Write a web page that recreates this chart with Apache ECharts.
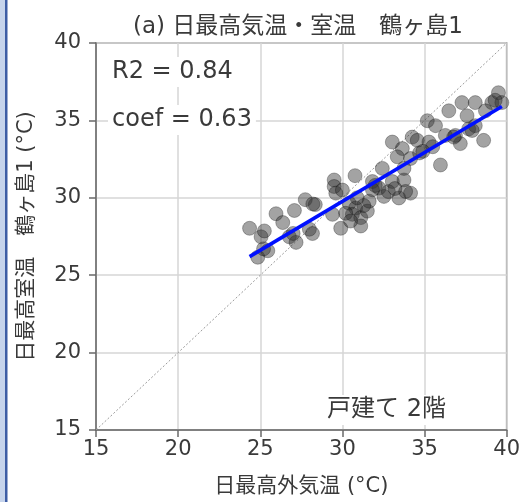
<!DOCTYPE html>
<html>
<head>
<meta charset="utf-8">
<script src="https://cdn.jsdelivr.net/npm/echarts@6/dist/echarts.min.js"></script>
<style>
html,body{margin:0;padding:0;background:#fff;}
#chart{width:523px;height:502px;}
</style>
</head>
<body>
<div id="chart"></div>
<script>
// ---- Data ----
const axisTicks = [15, 20, 25, 30, 35, 40];
const outdoorMax = [
  24.35, 24.85, 25.05, 25.25, 25.46, 25.2, 25.96, 26.37, 26.77, 27.08, 27.18, 27.0, 27.74, 28.35, 28.2, 27.99, 28.18,
  29.5, 29.5, 29.6, 29.4, 29.9, 30.77, 30.41, 30.81, 30.61, 31.12, 31.52, 31.12, 31.63, 31.83, 32.23, 32.43, 32.53,
  33.04, 33.44, 33.75, 34.15, 33.85, 31.83, 32.0, 30.2, 30.5, 31.3, 30.9, 32.8, 33.2, 30.0,
  33.04, 33.65, 33.34, 34.25, 34.56, 35.27, 34.15, 33.75, 35.17, 35.67, 35.97, 36.27, 36.48, 37.28, 38.09, 37.59,
  37.18, 37.69, 38.09, 38.6, 39.1, 39.5, 39.71, 38.71, 36.88, 37.9, 36.78, 35.5, 34.7, 34.9, 39.3
];
const indoorMax = [
  28.03, 26.16, 27.48, 27.86, 26.58, 26.7, 28.97, 28.4, 27.48, 29.18, 27.12, 27.7, 29.88, 29.56, 29.6, 27.97, 27.69,
  31.15, 30.73, 30.3, 28.93, 28.03, 31.43, 29.65, 29.34, 28.93, 28.72, 29.14, 28.18, 29.78, 31.05, 30.63, 31.9, 30.09,
  31.05, 29.99, 31.15, 30.3, 30.41, 30.52, 30.8, 29.0, 28.5, 29.5, 30.0, 30.4, 30.6, 30.5,
  33.6, 33.18, 32.65, 33.92, 33.71, 33.6, 32.54, 31.9, 34.98, 34.66, 32.12, 34.03, 35.62, 36.15, 36.15, 35.3,
  33.5, 34.45, 34.66, 33.71, 36.15, 36.79, 36.15, 35.62, 34.03, 34.35, 33.92, 33.3, 32.9, 33.0, 36.3
];
const fitX = [24.35, 39.71];
const fitY = [26.2, 35.9];
const identity = [15, 40];
const titleText = '(a) 日最高気温・室温　鶴ヶ島1';
const xName = '日最高外気温 (°C)';
const yName = '日最高室温　鶴ヶ島1 (°C)';
const statR2 = 'R2 = 0.84';
const statCoef = 'coef = 0.63';
const noteText = '戸建て 2階';

// ---- Chart ----
const LAT = 'DejaVu Sans, "Noto Sans CJK JP", sans-serif';
const chart = echarts.init(document.getElementById('chart'), null, {renderer: 'canvas'});
const pts = outdoorMax.map((x, i) => [x, indoorMax[i]]);
const axisCommon = {
  type: 'value',
  min: axisTicks[0],
  max: axisTicks[axisTicks.length - 1],
  interval: axisTicks[1] - axisTicks[0],
  axisLine: {show: true, onZero: false, lineStyle: {color: '#6a6a6a', width: 1.5}},
  axisTick: {show: true, inside: false, length: 7, lineStyle: {color: '#6a6a6a', width: 1.5}},
  splitLine: {show: true, lineStyle: {color: '#d6d6d6', width: 1.5}},
  nameLocation: 'middle',
  nameTextStyle: {fontFamily: LAT, fontSize: 21, color: '#3a3a3a'}
};
chart.setOption({
  animation: false,
  backgroundColor: '#fff',
  grid: {left: 96, right: 15, top: 43, bottom: 67, show: true, borderColor: '#7a7a7a', borderWidth: 1.5, backgroundColor: 'transparent'},
  xAxis: Object.assign({}, axisCommon, {
    name: xName, nameGap: 46,
    axisLabel: {fontFamily: LAT, fontSize: 21, color: '#3a3a3a', margin: 9}
  }),
  yAxis: Object.assign({}, axisCommon, {
    name: yName, nameGap: 59,
    axisLabel: {fontFamily: LAT, fontSize: 21, color: '#3a3a3a', margin: 15}
  }),
  graphic: [
    {type: 'rect', shape: {x: 0, y: 0, width: 5, height: 502}, style: {fill: '#c6d4ec'}, z: 200},
    {type: 'rect', shape: {x: 5, y: 0, width: 2.5, height: 502}, style: {fill: '#3d5da5'}, z: 200},
    {type: 'text', x: 298, y: 27, z: 100, style: {text: titleText, font: '23px ' + LAT, fill: '#3a3a3a', textAlign: 'center', textVerticalAlign: 'middle'}},
    {type: 'text', x: 108, y: 72, z: 100, style: {text: statR2, font: '24px ' + LAT, fill: '#3a3a3a', textAlign: 'left', textVerticalAlign: 'middle', backgroundColor: '#fff', padding: [3, 4]}},
    {type: 'text', x: 108, y: 120, z: 100, style: {text: statCoef, font: '24px ' + LAT, fill: '#3a3a3a', textAlign: 'left', textVerticalAlign: 'middle', backgroundColor: '#fff', padding: [3, 4]}},
    {type: 'text', x: 323, y: 410, z: 100, style: {text: noteText, font: '24px ' + LAT, fill: '#3a3a3a', textAlign: 'left', textVerticalAlign: 'middle', backgroundColor: '#fff', padding: [3, 4]}}
  ],
  series: [
    {
      type: 'line', data: [[identity[0], identity[0]], [identity[1], identity[1]]],
      symbol: 'none', silent: true, z: 2,
      lineStyle: {color: '#9a9a9a', width: 1, type: [2, 2]}
    },
    {
      type: 'scatter', data: pts, symbol: 'circle', symbolSize: 14, z: 3,
      itemStyle: {color: 'rgba(45,45,45,0.55)', borderColor: 'rgba(0,0,0,0.35)', borderWidth: 1}
    },
    {
      type: 'line', data: fitX.map((x, i) => [x, fitY[i]]),
      symbol: 'none', z: 4,
      lineStyle: {color: '#0010ff', width: 3.5}
    }
  ]
});
</script>
</body>
</html>
